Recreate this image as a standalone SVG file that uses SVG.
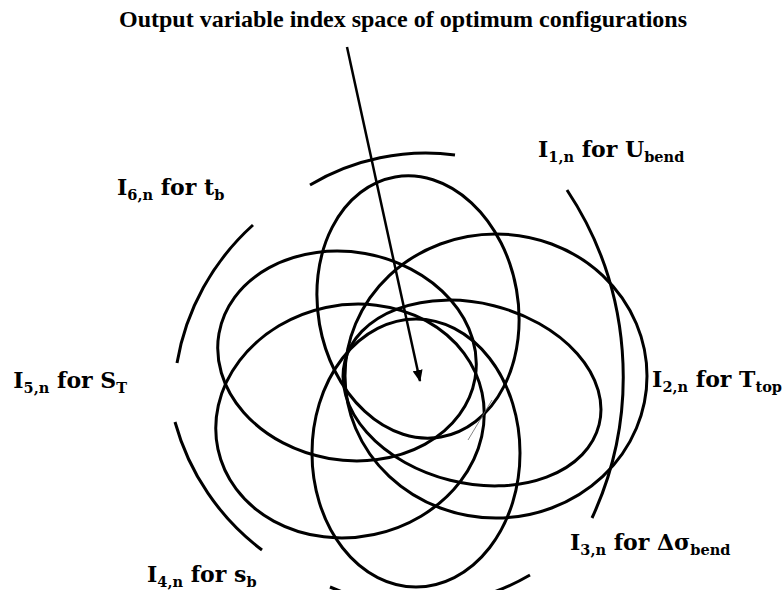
<svg xmlns="http://www.w3.org/2000/svg" width="784" height="590" viewBox="0 0 784 590">
<style>
.c{fill:none;stroke:#000;stroke-width:3}
.a{fill:none;stroke:#000;stroke-width:3}
.t{font-family:"Liberation Serif","Times New Roman",serif;font-weight:bold;font-size:24px;fill:#000}
.l{font-family:"DejaVu Serif",serif;font-weight:bold;font-size:22px;fill:#000}
.s{font-size:14.5px}
</style>
<defs>
<marker id="ah" markerWidth="12" markerHeight="10" refX="11" refY="5" orient="auto" markerUnits="userSpaceOnUse">
<path d="M0,0 L12,5 L0,10 z" fill="#000"/>
</marker>
</defs>
<rect width="784" height="590" fill="#fff"/>
<text class="t" x="403" y="27" text-anchor="middle">Output variable index space of optimum configurations</text>
<g id="I1"><ellipse class="c" cx="418" cy="307" rx="100" ry="132" transform="rotate(-10 418 307)"/><path class="a" d="M310,185 A226,226 0 0,1 455,155"/><text class="l" x="538" y="157">I<tspan class="s" dy="5">1,n</tspan><tspan dy="-5"> for U</tspan><tspan class="s" dy="5">bend</tspan></text></g>
<g id="I2"><ellipse class="c" cx="496" cy="376" rx="151" ry="142"/><path class="a" d="M567,190 A337,337 0 0,1 592,518"/><text class="l" x="782" y="387" text-anchor="end">I<tspan class="s" dy="5">2,n</tspan><tspan dy="-5"> for T</tspan><tspan class="s" dy="5">top</tspan></text></g>
<g id="I3"><ellipse class="c" cx="472" cy="393" rx="131" ry="90" transform="rotate(14 472 393)"/><text class="l" x="570" y="550">I<tspan class="s" dy="5">3,n</tspan><tspan dy="-5"> for Δσ</tspan><tspan class="s" dy="5">bend</tspan></text></g>
<g id="I4"><ellipse class="c" cx="416" cy="453" rx="104" ry="134"/><path class="a" d="M530,575 A222,222 0 0,1 330,587"/><text class="l" x="147" y="582">I<tspan class="s" dy="5">4,n</tspan><tspan dy="-5"> for s</tspan><tspan class="s" dy="5">b</tspan></text></g>
<g id="I5"><ellipse class="c" cx="350" cy="421" rx="135" ry="116" transform="rotate(-12 350 421)"/><path class="a" d="M262,550 A240,240 0 0,1 175,422"/><text class="l" x="127" y="388" text-anchor="end">I<tspan class="s" dy="5">5,n</tspan><tspan dy="-5"> for S</tspan><tspan class="s" dy="5">T</tspan></text></g>
<g id="I6"><ellipse class="c" cx="347" cy="356" rx="130" ry="104" transform="rotate(10 347 356)"/><path class="a" d="M177,363 A240,240 0 0,1 253,225"/><text class="l" x="117" y="195">I<tspan class="s" dy="5">6,n</tspan><tspan dy="-5"> for t</tspan><tspan class="s" dy="5">b</tspan></text></g>
<g id="connectors">
<line x1="347" y1="47" x2="420" y2="381" stroke="#000" stroke-width="2.5" marker-end="url(#ah)"/>
<line x1="468" y1="440" x2="492" y2="400" stroke="#666" stroke-width="0.8"/>
</g>
</svg>
